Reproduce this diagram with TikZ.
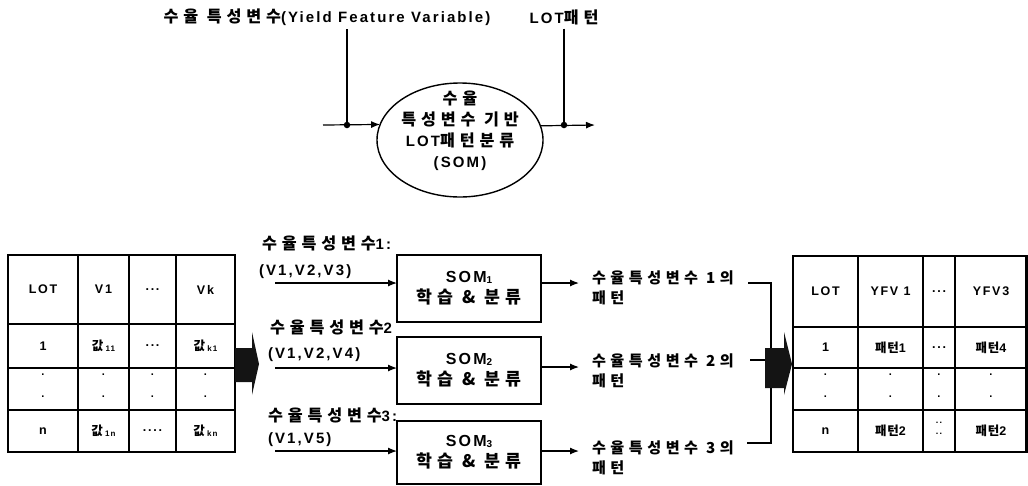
\documentclass[tikz,border=0pt]{standalone}
\usepackage{fontspec}
\setmainfont{Liberation Sans}[LetterSpace=14]
\newfontfamily\krfont{Noto Sans CJK KR}[Scale=1.08,LetterSpace=30]
\newfontfamily\krtight{Noto Sans CJK KR}[LetterSpace=6]
\newcommand\K[1]{{\krfont\bfseries #1}}
\newcommand\Kt[1]{{\krtight\bfseries #1}}
\newcommand\sub[2][8]{\raisebox{-1.2pt}{\fontsize{#1}{#1}\selectfont #2}}
\usetikzlibrary{arrows.meta,shapes.geometric,calc}

\begin{document}
\begin{tikzpicture}[x=1pt,y=-1pt,
  every node/.style={inner sep=0pt, outer sep=0pt},
  base/.style={font=\fontsize{15}{20}\selectfont\bfseries},
  lbl/.style={base, anchor=west},
  conn/.style={line width=1.2pt, -{Latex[length=9pt,width=7pt]}},
  wire/.style={line width=1.2pt},
  junction/.style={circle, fill=black, minimum size=6.5pt},
  sombox/.style={draw, line width=1.5pt, minimum width=144pt, align=center,
                 font=\fontsize{16}{21}\selectfont\bfseries},
  cell/.style={font=\fontsize{12.5}{14}\selectfont\bfseries, align=center},
  vdots/.style={font=\fontsize{11}{22}\selectfont\bfseries, align=center},
  grid/.style={line width=1.3pt},
  frame/.style={line width=2.2pt},
  bigarrow/.style={fill=black!92}
]
\useasboundingbox (0,0) rectangle (1028,485);

% ---------- top: classification block ----------
\node[base] (yfv) at (327,17) {\K{수율 특성변수}(Yield Feature Variable)};
\node[base] (lotp) at (564,17) {LOT\K{패턴}};

\node[draw, ellipse, line width=1.4pt, minimum width=166pt, minimum height=114pt] (ell) at (460,140) {};
\node[align=center, font=\fontsize{15}{21}\selectfont\bfseries] (elltxt) at (460,131)
  {\K{수율}\\\K{특성변수 기반}\\LOT\K{패턴분류}\\(SOM)};

\coordinate (inL) at (323,125);
\coordinate (outR) at (595,125);
\node[junction] (dotL) at (347,125) {};
\node[junction] (dotR) at (564,125) {};

\draw[conn] (inL) -- (ell.169.4);
\draw[conn] (ell.10.6) -- (outR);
\draw[wire] (yfv.south -| dotL) ++(0,4) -- (dotL.center);
\draw[wire] (lotp.south -| dotR) ++(0,4) -- (dotR.center);

% ---------- left table: LOT x variables ----------
\foreach \x in {78,129,176} \draw[grid] (\x,255) -- (\x,452);
\foreach \y in {324,368,410} \draw[grid] (8,\y) -- (235,\y);
\draw[frame] (8,255) rectangle (235,452);

\node[cell] (la1) at (43,289.5)  {LOT};
\node[cell] (la2) at (103.5,289.5) {V1};
\node[cell] (la3) at (152.5,289.5) {...};
\node[cell] (la4) at (205.5,289.5) {Vk};
\node[cell] (lb1) at (43,346)  {1};
\node[cell] (lb2) at (103.5,346) {\Kt{값}\,\sub{11}};
\node[cell] (lb3) at (152.5,346) {...};
\node[cell] (lb4) at (205.5,346) {\Kt{값}\,\sub{k1}};
\foreach \x/\n in {43/1,103.5/2,152.5/3,205.5/4}
  \node[vdots] (lc\n) at (\x,386) {.\\.};
\node[cell] (ld1) at (43,431)  {n};
\node[cell] (ld2) at (103.5,431) {\Kt{값}\,\sub{1n}};
\node[cell] (ld3) at (152.5,431) {....};
\node[cell] (ld4) at (205.5,431) {\Kt{값}\,\sub{kn}};

% fat arrow into the SOM stage
\fill[bigarrow] (235,348) -- (252,348) -- (252,332) -- (259,364) -- (252,395)
  -- (252,382) -- (235,382) -- cycle;

% ---------- SOM stages ----------
\node[sombox, minimum height=67pt] (som1) at (469,288.5) {SOM\sub[10]{1}\\\K{학습 \& 분류}};
\node[sombox, minimum height=67pt] (som2) at (469,370.5) {SOM\sub[10]{2}\\\K{학습 \& 분류}};
\node[sombox, minimum height=63pt] (som3) at (469,452.5) {SOM\sub[10]{3}\\\K{학습 \& 분류}};

\node[lbl] (v1a) at (262,243) {\K{수율특성변수}1:};
\node[lbl] (v1b) at (259,272) {(V1,V2,V3)};
\node[lbl] (v2a) at (270,327) {\K{수율특성변수}2};
\node[lbl] (v2b) at (268,355) {(V1,V2,V4)};
\node[lbl] (v3a) at (268,415) {\K{수율특성변수}3:};
\node[lbl] (v3b) at (268,440) {(V1,V5)};

\coordinate (in1) at (275,283);
\coordinate (in2) at (275,368);
\coordinate (in3) at (275,451);
\draw[conn] (in1) -- (in1 -| som1.west);
\draw[conn] (in2) -- (in2 -| som2.west);
\draw[conn] (in3) -- (in3 -| som3.west);

\coordinate (pt1) at (579,283);
\coordinate (pt2) at (579,367);
\coordinate (pt3) at (579,451);
\draw[conn] (som1.east |- pt1) -- (pt1);
\draw[conn] (som2.east |- pt2) -- (pt2);
\draw[conn] (som3.east |- pt3) -- (pt3);

\node[align=left, anchor=west, font=\fontsize{14}{20}\selectfont\bfseries] (o1) at (592,288)
  {\K{수율특성변수 1의}\\\K{패턴}};
\node[align=left, anchor=west, font=\fontsize{14}{20}\selectfont\bfseries] (o2) at (592,371)
  {\K{수율특성변수 2의}\\\K{패턴}};
\node[align=left, anchor=west, font=\fontsize{14}{20}\selectfont\bfseries] (o3) at (592,457.5)
  {\K{수율특성변수 3의}\\\K{패턴}};

% collecting bracket
\coordinate (b1) at (748,283);
\coordinate (b2) at (750,360);
\coordinate (b3) at (747,443);
\coordinate (rail) at (771,0);
\draw[wire] (b1) -- (b1 -| rail) -- (b3 -| rail) -- (b3);
\draw[wire] (b2) -- (b2 -| rail);

\fill[bigarrow] (765,348) -- (784,348) -- (784,332) -- (792,364) -- (784,395)
  -- (784,388) -- (765,388) -- cycle;

% ---------- right table: LOT x pattern ----------
\foreach \x in {858,923,955} \draw[grid] (\x,256) -- (\x,452);
\foreach \y in {327,368,410} \draw[grid] (793,\y) -- (1026.5,\y);
\draw[frame] (793,256) rectangle (1026.5,452);

\node[cell] (ra1) at (825.5,291.5) {LOT};
\node[cell] (ra2) at (890.5,291.5) {YFV 1};
\node[cell] (ra3) at (939,291.5) {...};
\node[cell] (ra4) at (991,291.5) {YFV3};
\node[cell] (rb1) at (825.5,347.5) {1};
\node[cell] (rb2) at (890.5,347.5) {\Kt{패턴}1};
\node[cell] (rb3) at (939,347.5) {...};
\node[cell] (rb4) at (991,347.5) {\Kt{패턴}4};
\foreach \x/\n in {825.5/1,890.5/2,939/3,991/4}
  \node[vdots] (rc\n) at (\x,386) {.\\.};
\node[cell] (rd1) at (825.5,431) {n};
\node[cell] (rd2) at (890.5,431) {\Kt{패턴}2};
\node[align=center, font=\fontsize{9}{11}\selectfont\bfseries] (rd3) at (939,428) {..\\..};
\node[cell] (rd4) at (991,431) {\Kt{패턴}2};
\end{tikzpicture}
\end{document}
